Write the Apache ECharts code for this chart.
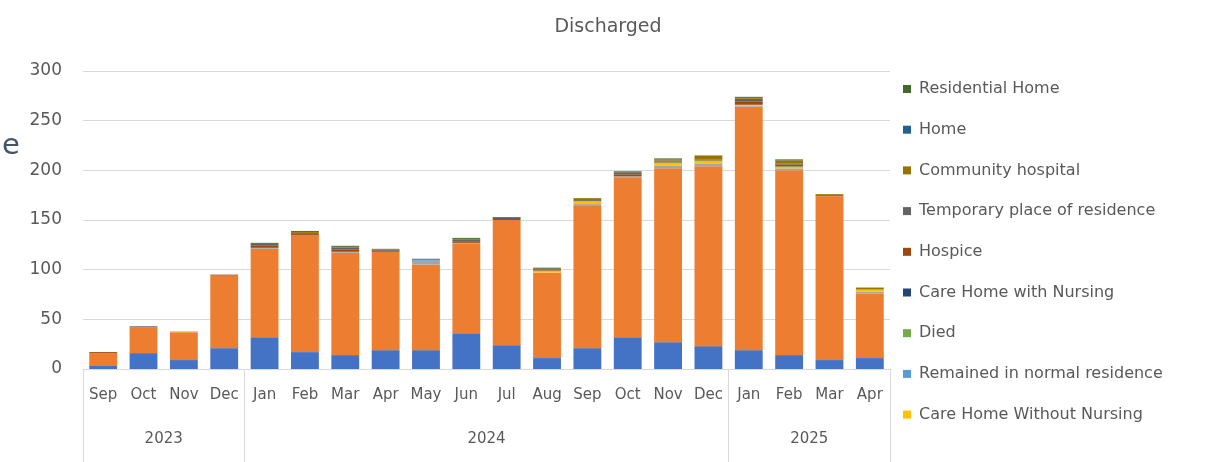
<!DOCTYPE html>
<html>
<head>
<meta charset="utf-8">
<title>Discharged</title>
<script src="https://cdn.jsdelivr.net/npm/echarts@6/dist/echarts.min.js"></script>
<style>
  html, body { margin: 0; padding: 0; background: #ffffff; }
  #chart { width: 1216px; height: 462px; }
</style>
</head>
<body>
<div id="chart"></div>
<script>
// Month categories, grouped by year on a second axis row
const months = ['Sep', 'Oct', 'Nov', 'Dec',
  'Jan', 'Feb', 'Mar', 'Apr', 'May', 'Jun', 'Jul', 'Aug', 'Sep', 'Oct', 'Nov', 'Dec',
  'Jan', 'Feb', 'Mar', 'Apr'];
const years = ['2023', '2024', '2025'];
const monthsPerYear = [4, 12, 4];

// Discharge destinations per month, stacked bottom to top
const series1 = [3, 16, 9, 21, 32, 17, 14, 19, 19, 36, 24, 11, 21, 32, 27, 23, 19, 14, 9, 11];
const series2 = [13, 26, 28, 73, 89, 118, 103, 99, 86, 90, 126, 86, 143, 161, 175, 181, 245, 186, 165, 65];
const series3 = [0, 0, 0, 0, 1, 0, 1, 0, 4, 1, 0, 0, 2, 1, 3, 3, 1, 2, 0, 2];
const careHomeWithoutNursing = [0, 0, 1, 0, 0, 0, 0, 0, 0, 0, 0, 2, 3, 0, 2, 2, 1, 1, 0, 2];
const remainedInNormalResidence = [0, 0, 0, 0, 0, 0, 0, 0, 1, 0, 0, 0, 0, 0, 0, 0, 0, 0, 0, 0];
const died = [0, 0, 0, 0, 0, 0, 0, 0, 0, 0, 0, 0, 0, 0, 1, 1, 0, 1, 0, 0];
const careHomeWithNursing = [0, 0, 0, 0, 0, 0, 0, 0, 0, 0, 0, 0, 0, 0, 0, 0, 0, 0, 0, 0];
const hospice = [1, 0, 0, 1, 2, 1, 2, 1, 0, 1, 1, 1, 0, 2, 1, 1, 3, 2, 1, 0];
const temporaryPlace = [0, 1, 0, 0, 2, 1, 2, 1, 1, 2, 1, 1, 1, 2, 1, 0, 3, 1, 0, 0];
const communityHospital = [0, 0, 0, 0, 0, 1, 1, 1, 0, 1, 1, 0, 2, 0, 1, 4, 1, 3, 1, 2];
const home = [0, 0, 0, 0, 0, 0, 0, 0, 0, 0, 0, 0, 0, 0, 0, 0, 0, 0, 0, 0];
const residentialHome = [0, 0, 0, 0, 1, 1, 1, 0, 0, 1, 0, 1, 0, 1, 1, 0, 1, 1, 0, 0];

const yTicks = { min: 0, max: 300, interval: 50 };

const stackDefs = [
  ['Series 1', series1, '#4472C4'],
  ['Series 2', series2, '#ED7D31'],
  ['Series 3', series3, '#A5A5A5'],
  ['Care Home Without Nursing', careHomeWithoutNursing, '#FFC000'],
  ['Remained in normal residence', remainedInNormalResidence, '#5B9BD5'],
  ['Died', died, '#70AD47'],
  ['Care Home with Nursing', careHomeWithNursing, '#264478'],
  ['Hospice', hospice, '#9E480E'],
  ['Temporary place of residence', temporaryPlace, '#636363'],
  ['Community hospital', communityHospital, '#997300'],
  ['Home', home, '#255E91'],
  ['Residential Home', residentialHome, '#43682B']
];

// Legend lists the named destinations, last-stacked first
const legendNames = stackDefs.slice(3).map(d => d[0]).reverse();

// Year group boundaries and centres along the month axis
const boundaries = [0];
monthsPerYear.forEach(n => boundaries.push(boundaries[boundaries.length - 1] + n));
const centres = monthsPerYear.map((n, i) => boundaries[i] + n / 2);

const FONT = 'DejaVu Sans';
const TEXT = '#595959';
const LINE = '#d9d9d9';

const chart = echarts.init(document.getElementById('chart'), null, { renderer: 'canvas' });
chart.setOption({
  animation: false,
  backgroundColor: '#ffffff',
  textStyle: { fontFamily: FONT },
  title: [
    {
      text: 'Discharged',
      left: 'center',
      top: 13,
      textStyle: { fontFamily: FONT, fontSize: 19, fontWeight: 'normal', color: TEXT }
    },
    {
      text: 'e',
      left: -3,
      top: 127,
      textStyle: { fontFamily: FONT, fontSize: 29, fontWeight: 'normal', color: '#44546A' }
    }
  ],
  legend: {
    data: legendNames,
    orient: 'vertical',
    left: 898,
    top: 76,
    icon: 'rect',
    itemWidth: 8,
    itemHeight: 8,
    itemGap: 24.7,
    textStyle: { fontFamily: FONT, fontSize: 16, color: TEXT, padding: [0, 0, 0, 3] },
    selectedMode: false
  },
  grid: { left: 83, right: 326, top: 71, bottom: 93, containLabel: false },
  xAxis: [
    {
      type: 'category',
      data: months,
      position: 'bottom',
      axisLine: { show: true, lineStyle: { color: LINE } },
      axisTick: { show: false },
      axisLabel: { fontFamily: FONT, fontSize: 15, color: TEXT, margin: 19, interval: 0 }
    },
    {
      type: 'value',
      min: 0,
      max: boundaries[boundaries.length - 1],
      position: 'bottom',
      axisLine: { show: false },
      splitLine: { show: false },
      axisTick: {
        show: true,
        length: 95,
        customValues: boundaries,
        lineStyle: { color: LINE }
      },
      axisLabel: {
        show: true,
        customValues: centres,
        formatter: v => years[centres.indexOf(v)] || '',
        fontFamily: FONT,
        fontSize: 15,
        color: TEXT,
        margin: 63
      }
    }
  ],
  yAxis: {
    type: 'value',
    min: yTicks.min,
    max: yTicks.max,
    interval: yTicks.interval,
    axisLine: { show: false },
    axisTick: { show: false },
    axisLabel: { fontFamily: FONT, fontSize: 17, color: TEXT, margin: 21 },
    splitLine: { lineStyle: { color: LINE, width: 1 } }
  },
  series: stackDefs.map(([name, values, color]) => ({
    name,
    type: 'bar',
    stack: 'total',
    xAxisIndex: 0,
    data: values,
    barCategoryGap: '31%',
    itemStyle: { color },
    emphasis: { disabled: true }
  }))
});
</script>
</body>
</html>
